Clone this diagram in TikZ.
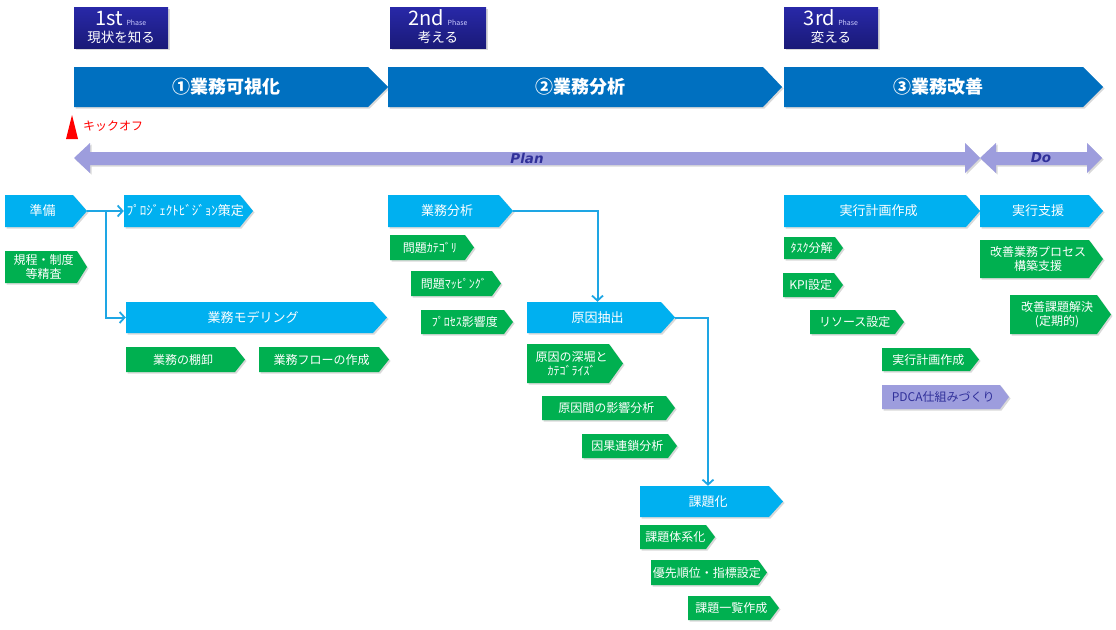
\documentclass[tikz,border=0pt]{standalone}
\usepackage{fontspec}
\setmainfont{Noto Sans CJK JP}
\newfontfamily\planfont{DejaVu Sans}
\usetikzlibrary{arrows.meta,shadows}

\definecolor{phasetop}{HTML}{2828A8}
\definecolor{phasebot}{HTML}{1A1A78}
\definecolor{stageblue}{HTML}{0070C0}
\definecolor{taskblue}{HTML}{00B0F0}
\definecolor{taskgreen}{HTML}{00B050}
\definecolor{planlav}{HTML}{9D9DDD}
\definecolor{plantext}{HTML}{30309A}
\definecolor{linkblue}{HTML}{1EA6E4}

\tikzset{
  boxshadow/.style={drop shadow={shadow xshift=1.5pt, shadow yshift=-1.5pt, opacity=.3}},
  phasebox/.style={top color=phasetop, bottom color=phasebot, boxshadow},
  stagebox/.style={fill=stageblue, boxshadow},
  taskbox/.style={fill=taskblue, boxshadow},
  subbox/.style={fill=taskgreen, boxshadow},
  pdcabox/.style={fill=planlav, boxshadow},
  boxtext/.style={text=white, align=center, inner sep=0pt, font=\fontsize{12}{14}\selectfont},
  tasktext/.style={font=\fontsize{13}{15}\selectfont},
  stagetext/.style={font=\fontsize{18}{20}\selectfont\bfseries},
  phasenum/.style={text=white, inner sep=0pt, font=\fontsize{20}{20}\selectfont},
  phasename/.style={text=white, inner sep=0pt, font=\fontsize{13.5}{15}\selectfont},
  link/.style={draw=linkblue, line width=2pt, -{Straight Barb[length=5pt,width=11pt,line width=1.8pt]}},
}

\newcommand{\phasetag}{{\fontsize{7}{7}\selectfont\color{blue!20}Phase}}

% arrow-shaped box: [text opts]{name}{fill style}{left}{top}{right}{bottom}{tip}{text}
\newcommand{\flowbox}[9][]{%
  \path[#3] (#4,#5) -- ({#6-#8},#5) -- (#6,{(#5+#7)/2}) -- ({#6-#8},#7) -- (#4,#7) -- cycle;
  \node[boxtext, #1, minimum width={(#6-#4-#8/2)*1pt}, minimum height={(#7-#5)*1pt}]
    (#2) at ({(#4+#6-#8/2)/2},{(#5+#7)/2}) {#9};
  \coordinate (#2-tip) at (#6,{(#5+#7)/2});
}

\begin{document}
\begin{tikzpicture}[x=1pt, y=-1pt]
  \useasboundingbox (0,0) rectangle (1116,629);

  % phases
  \path[phasebox] (74,7) rectangle (168,48);
  \node[phasenum] (phase1) at (121,18) {1st\,\phasetag};
  \node[phasename] (phase1name) at (121,37) {現状を知る};
  \path[phasebox] (390,7) rectangle (486,48);
  \node[phasenum] (phase2) at (438,18) {2nd\,\phasetag};
  \node[phasename] (phase2name) at (438,37) {考える};
  \path[phasebox] (784,7) rectangle (878,48);
  \node[phasenum] (phase3) at (831,18) {3rd\,\phasetag};
  \node[phasename] (phase3name) at (831,37) {変える};

  % stages
  \flowbox[stagetext]{stage1}{stagebox}{74}{67}{388}{107}{20}{①業務可視化}
  \flowbox[stagetext]{stage2}{stagebox}{388}{67}{782}{107}{19}{②業務分析}
  \flowbox[stagetext]{stage3}{stagebox}{784}{67}{1103}{107}{20}{③業務改善}

  % kick off
  \fill[red] (66,139) -- (72,115) -- (78,139) -- cycle;
  \node[anchor=west, text=red, inner sep=0pt, font=\fontsize{12}{14}\selectfont] (kickoff) at (83,126) {キックオフ};

  % Plan / Do
  \path[fill=planlav, boxshadow] (74,158) -- (90,143) -- (90,152) -- (965,152) -- (965,143) -- (980,158)
    -- (965,173) -- (965,165) -- (90,165) -- (90,173) -- cycle;
  \node[text=plantext, font=\planfont\fontsize{13.5}{15}\selectfont\bfseries\itshape] (plan) at (527,158) {Plan};
  \path[fill=planlav, boxshadow] (980,158) -- (996,143) -- (996,152) -- (1087,152) -- (1087,143) -- (1102,158)
    -- (1087,173) -- (1087,165) -- (996,165) -- (996,173) -- cycle;
  \node[text=plantext, font=\planfont\fontsize{13.5}{15}\selectfont\bfseries\itshape] (do) at (1041,158) {Do};

  % 1st phase tasks
  \flowbox[tasktext]{prep}{taskbox}{5}{195}{87}{227}{14}{準備}
  \flowbox{rules}{subbox}{5}{251}{87}{283}{10}{規程・制度\\等精査}
  \flowbox[tasktext]{vision}{taskbox}{124}{195}{253}{227}{13}{ﾌﾟﾛｼﾞｪｸﾄﾋﾞｼﾞｮﾝ策定}
  \flowbox[tasktext]{model}{taskbox}{126}{302}{387}{333}{14}{業務モデリング}
  \flowbox{inventory}{subbox}{126}{347}{245}{372}{10}{業務の棚卸}
  \flowbox{flow}{subbox}{259}{347}{389}{372}{10}{業務フローの作成}

  % 2nd phase tasks
  \flowbox[tasktext]{analysis}{taskbox}{388}{195}{513}{227}{14}{業務分析}
  \flowbox{categ}{subbox}{390}{235}{474}{260}{9}{問題ｶﾃｺﾞﾘ}
  \flowbox{mapping}{subbox}{411}{271}{501}{296}{9}{問題ﾏｯﾋﾟﾝｸﾞ}
  \flowbox{impact}{subbox}{421}{310}{513}{334}{9}{ﾌﾟﾛｾｽ影響度}
  \flowbox[tasktext]{cause}{taskbox}{527}{302}{675}{333}{14}{原因抽出}
  \flowbox{drill}{subbox}{527}{344}{623}{383}{14}{原因の深堀と\\ｶﾃｺﾞﾗｲｽﾞ}
  \flowbox{mutual}{subbox}{542}{396}{675}{420}{9}{原因間の影響分析}
  \flowbox{chain}{subbox}{582}{434}{677}{458}{9}{因果連鎖分析}
  \flowbox[tasktext]{issue}{taskbox}{640}{486}{783}{517}{14}{課題化}
  \flowbox{system}{subbox}{640}{525}{715}{549}{9}{課題体系化}
  \flowbox{priority}{subbox}{651}{560}{767}{585}{9}{優先順位・指標設定}
  \flowbox{issuelist}{subbox}{688}{596}{779}{620}{9}{課題一覧作成}

  % 3rd phase tasks
  \flowbox[tasktext]{execplan}{taskbox}{784}{195}{980}{227}{14}{実行計画作成}
  \flowbox{breakdown}{subbox}{784}{237}{843}{259}{8}{ﾀｽｸ分解}
  \flowbox{kpi}{subbox}{783}{273}{843}{297}{9}{KPI設定}
  \flowbox{resource}{subbox}{810}{310}{904}{334}{9}{リソース設定}
  \flowbox{planmake}{subbox}{882}{348}{979}{371}{9}{実行計画作成}
  \flowbox[text=plantext]{pdca}{pdcabox}{882}{385}{1009}{409}{9}{PDCA仕組みづくり}
  \flowbox[tasktext]{support}{taskbox}{980}{195}{1103}{227}{14}{実行支援}
  \flowbox{rebuild}{subbox}{980}{240}{1103}{278}{14}{改善業務プロセス\\構築支援}
  \flowbox{solve}{subbox}{1010}{295}{1111}{334}{14}{改善課題解決\\(定期的)}

  % links
  \draw[link] (prep-tip) -- (vision.west);
  \draw[link] (prep-tip) -- ++(19,0) |- (model.west);
  \draw[link] (analysis-tip) -| (cause.north);
  \draw[link] (cause-tip) -| (issue.north);
\end{tikzpicture}
\end{document}
